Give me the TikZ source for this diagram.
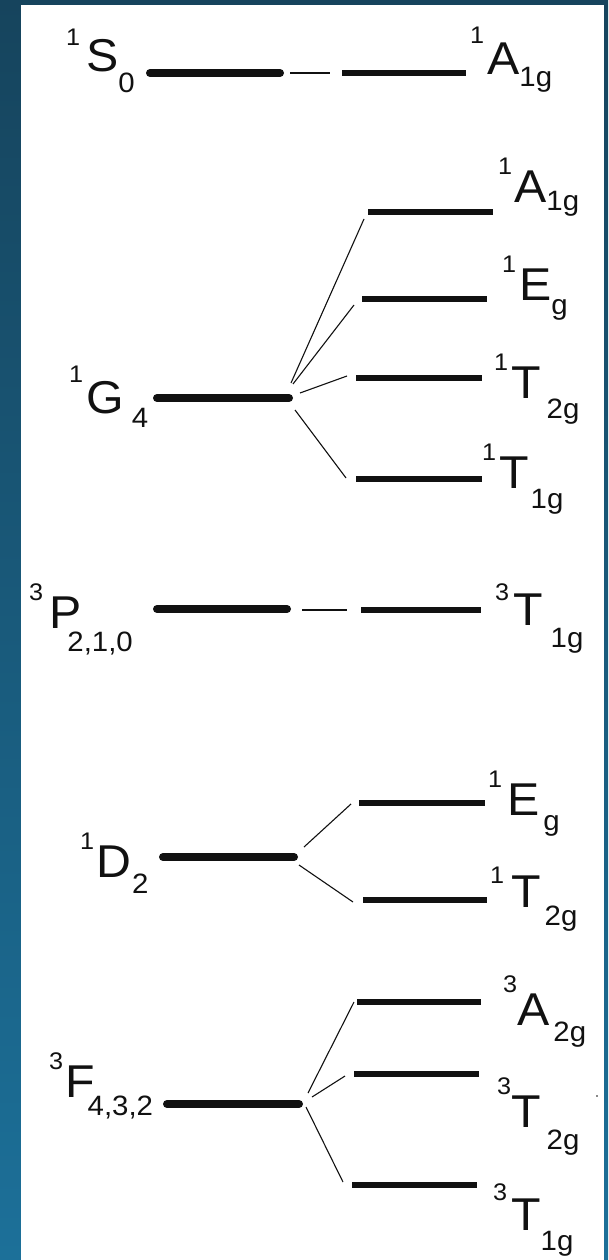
\documentclass[tikz,border=0pt]{standalone}
\usepackage{fontspec}
\setmainfont{Liberation Sans}[FakeStretch=1.05]
\definecolor{bgtop}{HTML}{16445D}
\definecolor{bgbot}{HTML}{1C7099}
\definecolor{ink}{HTML}{111111}
\newcommand{\mainf}{\fontsize{46}{46}\selectfont}
\newcommand{\supf}{\fontsize{24}{24}\selectfont}
\newcommand{\scrf}{\fontsize{28}{28}\selectfont}
% sup text, gap, raise
\newcommand{\supx}[3]{\llap{{\supf\raisebox{#3pt}{#1}}\kern#2pt}}
% sub text, kern, lower
\newcommand{\subx}[3]{\kern#2pt{\scrf\raisebox{-#3pt}{#1}}}
\tikzset{
  thickbar/.style={line width=8pt, line cap=round, ink},
  levelbar/.style={line width=5.5pt, ink},
  thinline/.style={line width=1.1pt, ink},
  lab/.style={anchor=base west, inner sep=0pt, text=ink, font=\mainf}
}
\begin{document}
\begin{tikzpicture}[x=1pt,y=-1pt]
\useasboundingbox (0,0) rectangle (608,1260);
\shade[top color=bgtop, bottom color=bgbot] (0,0) rectangle (608,1260);
\fill[white] (21,5) rectangle (604,1260);

% ---------- 1S0 row ----------
\coordinate (s0a) at (150,73); \coordinate (s0b) at (280,73);
\coordinate (s0c) at (290,73); \coordinate (s0d) at (330,73);
\coordinate (a1a) at (342,73); \coordinate (a1b) at (466,73);
\draw[thickbar] (s0a) -- (s0b);
\draw[thinline] (s0c) -- (s0d);
\draw[levelbar] (a1a) -- (a1b);
\node[lab] (lS) at (86,72) {\supx{1}{6}{26}S\subx{0}{0}{21}};
\node[lab] (lA1) at (487,75) {\supx{1}{3}{31}A\subx{1g}{0}{12}};

% ---------- 1G4 row ----------
\coordinate (g4a) at (157,398); \coordinate (g4b) at (289,398);
\draw[thickbar] (g4a) -- (g4b);
\coordinate (ga1a) at (368,212); \coordinate (ga1b) at (493,212);
\coordinate (gega) at (362,299); \coordinate (gegb) at (487,299);
\coordinate (gt2a) at (356,378); \coordinate (gt2b) at (482,378);
\coordinate (gt1a) at (356,479); \coordinate (gt1b) at (482,479);
\draw[levelbar] (ga1a) -- (ga1b);
\draw[levelbar] (gega) -- (gegb);
\draw[levelbar] (gt2a) -- (gt2b);
\draw[levelbar] (gt1a) -- (gt1b);
\coordinate (gc1) at (291,383); \coordinate (gc1e) at (364,219);
\coordinate (gc2) at (293,384); \coordinate (gc2e) at (354,305);
\coordinate (gc3) at (300,393); \coordinate (gc3e) at (347,376);
\coordinate (gc4) at (295,410); \coordinate (gc4e) at (346,478);
\draw[thinline] (gc1) -- (gc1e);
\draw[thinline] (gc2) -- (gc2e);
\draw[thinline] (gc3) -- (gc3e);
\draw[thinline] (gc4) -- (gc4e);
\node[lab] (lG) at (86,413) {\supx{1}{3}{31}G\subx{4}{8}{14}};
\node[lab] (lGA) at (514,202) {\supx{1}{2}{28}A\subx{1g}{0}{8}};
\node[lab] (lGE) at (519,300) {\supx{1}{3}{28}E\subx{g}{0}{14}};
\node[lab] (lGT2) at (511,398) {\supx{1}{3}{28}T\subx{2g}{6}{20}};
\node[lab] (lGT1) at (499,488) {\supx{1}{3}{28}T\subx{1g}{2}{20}};

% ---------- 3P row ----------
\coordinate (pa) at (157,609); \coordinate (pb) at (287,609);
\coordinate (pc) at (302,610); \coordinate (pd) at (347,610);
\coordinate (pta) at (361,610); \coordinate (ptb) at (481,610);
\draw[thickbar] (pa) -- (pb);
\draw[thinline] (pc) -- (pd);
\draw[levelbar] (pta) -- (ptb);
\node[lab] (lP) at (49,628) {\supx{3}{6}{28}P\subx{2,1,0}{-14}{23}};
\node[lab] (lPT) at (513,625) {\supx{3}{4}{25}T\subx{1g}{8}{22}};

% ---------- 1D2 row ----------
\coordinate (da) at (163,857); \coordinate (db) at (294,857);
\draw[thickbar] (da) -- (db);
\coordinate (dea) at (359,803); \coordinate (deb) at (485,803);
\coordinate (dta) at (363,900); \coordinate (dtb) at (487,900);
\draw[levelbar] (dea) -- (deb);
\draw[levelbar] (dta) -- (dtb);
\coordinate (dc1) at (304,847); \coordinate (dc1e) at (351,804);
\coordinate (dc2) at (299,865); \coordinate (dc2e) at (353,902);
\draw[thinline] (dc1) -- (dc1e);
\draw[thinline] (dc2) -- (dc2e);
\node[lab] (lD) at (96,877) {\supx{1}{2}{28}D\subx{2}{1}{16}};
\node[lab] (lDE) at (507,815) {\supx{1}{5}{28}E\subx{g}{4}{15}};
\node[lab] (lDT) at (511,907) {\supx{1}{7}{24}T\subx{2g}{4}{18}};

% ---------- 3F row ----------
\coordinate (fa) at (167,1104); \coordinate (fb) at (299,1104);
\draw[thickbar] (fa) -- (fb);
\coordinate (faa) at (357,1002); \coordinate (fab) at (481,1002);
\coordinate (fta) at (354,1074); \coordinate (ftb) at (479,1074);
\coordinate (fua) at (352,1185); \coordinate (fub) at (477,1185);
\draw[levelbar] (faa) -- (fab);
\draw[levelbar] (fta) -- (ftb);
\draw[levelbar] (fua) -- (fub);
\coordinate (fc1) at (308,1093); \coordinate (fc1e) at (354,1002);
\coordinate (fc2) at (312,1097); \coordinate (fc2e) at (345,1076);
\coordinate (fc3) at (306,1107); \coordinate (fc3e) at (343,1182);
\draw[thinline] (fc1) -- (fc1e);
\draw[thinline] (fc2) -- (fc2e);
\draw[thinline] (fc3) -- (fc3e);
\node[lab] (lF) at (65,1097) {\supx{3}{2}{28}F\subx{4,3,2}{-7}{18}};
\node[lab] (lFA) at (517,1025) {\supx{3}{0}{33}A\subx{2g}{4}{16}};
\node[lab] (lFT2) at (511,1127) {\supx{3}{0}{33}T\subx{2g}{6}{22}};
\node[lab] (lFT1) at (511,1230) {\supx{3}{4}{30}T\subx{1g}{0}{20}};
\fill[ink] (597,1096) circle (0.8);
\end{tikzpicture}
\end{document}
